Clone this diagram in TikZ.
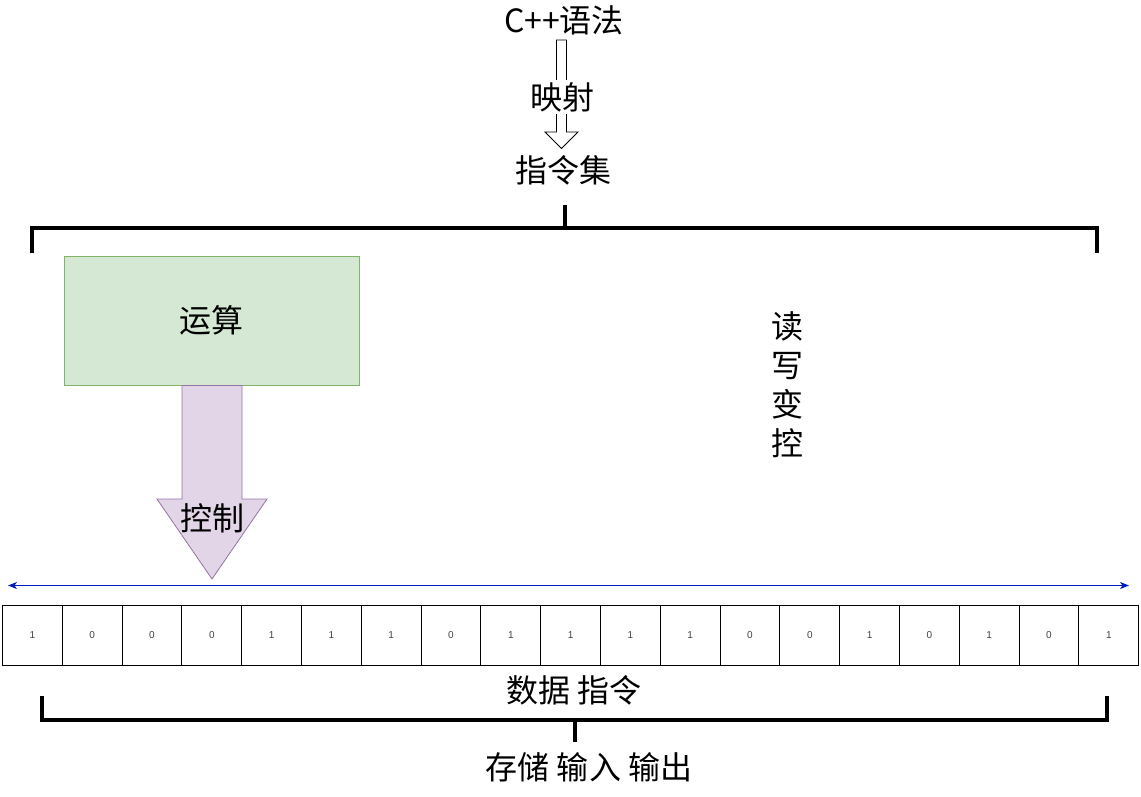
\documentclass[tikz,border=0pt]{standalone}
\usepackage{fontspec}
\setmainfont{Liberation Sans}
\newfontfamily\cjk{Noto Sans CJK SC}
\usetikzlibrary{arrows.meta}
\definecolor{greenfill}{HTML}{D5E8D4}
\definecolor{greenline}{HTML}{82B366}
\definecolor{purplefill}{HTML}{E1D5E7}
\definecolor{purpleline}{HTML}{9673A6}
\definecolor{blueline}{HTML}{001DBC}
\tikzset{
  bigtext/.style={inner sep=0pt, font=\fontsize{32}{39}\selectfont\cjk},
  bracket/.style={line width=4pt, line join=miter, line cap=butt},
  bitcell/.style={draw, line width=0.9pt, minimum width=59.8pt, minimum height=60pt, inner sep=0pt, font=\fontsize{10}{12}\selectfont, text=black!75},
  hollowarrow/.style={draw, line width=0.8pt, fill=white},
  flexarrow/.style={draw=purpleline, fill=purplefill, line width=0.8pt},
  opbox/.style={draw=greenline, fill=greenfill, line width=0.8pt, minimum width=295pt, minimum height=129pt, inner sep=0pt},
}
\begin{document}
\begin{tikzpicture}[x=1pt,y=-1pt]
\useasboundingbox (0,0) rectangle (1141,796);

% top hollow arrow
\path[hollowarrow] (556.5,40) -- (566.5,40) -- (566.5,132) -- (578,132) -- (561.5,148.5) -- (545,132) -- (556.5,132) -- cycle;
\node[bigtext] (cpp) at (564,20) {C++{\cjk 语法}};
\node[bigtext, fill=white, inner ysep=2pt] (map) at (562,97) {映射};
\node[bigtext] (isa) at (563,170) {指令集};

% top bracket
\coordinate (tb) at (565,205);
\draw[bracket] (32,253) -- (32,228) -- (1097,228) -- (1097,253);
\draw[bracket] (tb) -- (565,228);

% compute box
\node[opbox, anchor=north west] (alu) at (64,256) {};
\node[bigtext] (alut) at (211,320) {运算};

% control arrow
\path[flexarrow] (182,385.5) -- (242,385.5) -- (242,499) -- (267,499) -- (212,579) -- (157,499) -- (182,499) -- cycle;
\node[bigtext] (ctrl) at (212,518) {控制};

% vertical text
\node[bigtext, align=center] (rw) at (787,385) {读\\写\\变\\控};

% blue double arrow
\coordinate (bl) at (8,585.5);
\coordinate (br) at (1129,585.5);
\draw[blueline, line width=1pt, {Stealth[length=9pt,width=7pt,inset=2.5pt]}-{Stealth[length=9pt,width=7pt,inset=2.5pt]}] (bl) -- (br);

% bit cells
\foreach \b [count=\i] in {1,0,0,0,1,1,1,0,1,1,1,1,0,0,1,0,1,0,1} {
  \node[bitcell] (c\i) at ({2.5+(\i-0.5)*59.8},635) {\b};
}

% lower labels and bracket
\node[bigtext] (data) at (574,690) {数据 指令};
\draw[bracket] (42,696) -- (42,719.5) -- (1107,719.5) -- (1107,696);
\coordinate (bb) at (574.5,742);
\draw[bracket] (574.5,719.5) -- (bb);
\node[bigtext] (io) at (589,767) {存储 输入 输出};
\end{tikzpicture}
\end{document}
